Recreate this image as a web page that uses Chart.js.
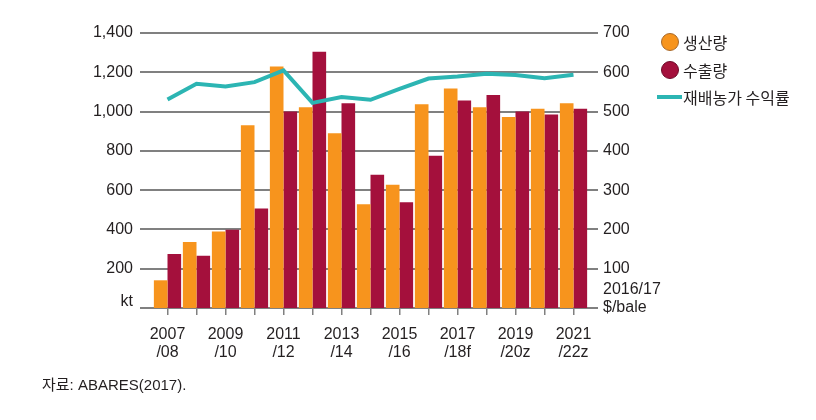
<!DOCTYPE html>
<html>
<head>
<meta charset="utf-8">
<script src="https://cdn.jsdelivr.net/npm/chart.js@4"></script>
<style>
  html, body { margin: 0; padding: 0; background: #fff; }
  #wrap { position: relative; width: 816px; height: 420px; overflow: hidden; }
  #chart { position: absolute; left: 0; top: 0; }
  .legend { position: absolute; left: 660px; top: 30px; font-family: "Noto Sans CJK KR", "Liberation Sans", sans-serif; font-size: 16px; color: #231f20; }
  .legend .item { position: absolute; left: 0; height: 24px; line-height: 24px; white-space: nowrap; }
  .legend .dot { position: absolute; left: 1px; top: 3px; width: 18px; height: 18px; border-radius: 50%; box-sizing: border-box; }
  .legend .bar { position: absolute; left: -3px; top: 10px; width: 25px; height: 4px; }
  .legend .txt { position: absolute; left: 23px; top: 0; }
  .source { position: absolute; left: 42px; top: 373px; font-family: "Liberation Sans", "Noto Sans CJK KR", sans-serif; font-size: 15px; color: #231f20; }
</style>
</head>
<body>
<div id="wrap">
  <canvas id="chart" width="816" height="420"></canvas>
  <div class="legend">
    <div class="item" style="top:0px"><span class="dot" style="background:#f7941d;border:1.5px solid #a8692a"></span><span class="txt">생산량</span></div>
    <div class="item" style="top:28px"><span class="dot" style="background:#a4103c;border:1.5px solid #6e0a28"></span><span class="txt">수출량</span></div>
    <div class="item" style="top:55px"><span class="bar" style="background:#2cb5b3"></span><span class="txt">재배농가 수익률</span></div>
  </div>
  <div class="source">자료: ABARES(2017).</div>
</div>
<script>
// Seasons (x axis)
const seasons = ['2007/08', '2008/09', '2009/10', '2010/11', '2011/12', '2012/13', '2013/14', '2014/15',
                 '2015/16', '2016/17', '2017/18f', '2018/19z', '2019/20z', '2020/21z', '2021/22z'];

// Production and exports, kt (left axis)
const production = [141, 336, 390, 931, 1229, 1022, 890, 528, 627, 1037, 1118, 1022, 973, 1014, 1042];
const exportsKt  = [275, 266, 398, 507, 1000, 1305, 1043, 679, 538, 775, 1056, 1084, 1000, 985, 1014];

// Grower returns, 2016/17 $/bale (right axis)
const growerReturn = [531, 571, 564, 575, 605, 522, 537, 530, 558, 584, 589, 596, 593, 585, 594];

// Tick labels
const leftTicks = [0, 200, 400, 600, 800, 1000, 1200, 1400];
const rightTicks = [0, 100, 200, 300, 400, 500, 600, 700];

const FONT = '"Liberation Sans", Arial, "Noto Sans CJK KR", sans-serif';
const TEXT = '#231f20';
const GRID = '#808080';

// Horizontal grid lines run a little past the bars on both sides
const gridPlugin = {
  id: 'wideGrid',
  beforeDatasetsDraw(chart) {
    const ctx = chart.ctx;
    const y = chart.scales.y;
    const left = chart.chartArea.left - 13;
    const right = chart.chartArea.right + 10;
    ctx.save();
    ctx.strokeStyle = GRID;
    ctx.lineWidth = 2;
    leftTicks.forEach((v) => {
      const py = Math.round(y.getPixelForValue(v));
      ctx.beginPath();
      ctx.moveTo(left, py);
      ctx.lineTo(right, py);
      ctx.stroke();
    });
    ctx.restore();
  }
};

new Chart(document.getElementById('chart').getContext('2d'), {
  type: 'bar',
  data: {
    labels: seasons,
    datasets: [
      {
        type: 'line',
        label: '재배농가 수익률',
        data: growerReturn,
        yAxisID: 'y1',
        borderColor: '#2cb5b3',
        borderWidth: 4,
        pointRadius: 0,
        tension: 0,
        fill: false,
        order: 0
      },
      {
        label: '생산량',
        data: production,
        yAxisID: 'y',
        backgroundColor: '#f7941d',
        categoryPercentage: 0.94,
        barPercentage: 1.0,
        order: 1
      },
      {
        label: '수출량',
        data: exportsKt,
        yAxisID: 'y',
        backgroundColor: '#a4103c',
        categoryPercentage: 0.94,
        barPercentage: 1.0,
        order: 1
      }
    ]
  },
  options: {
    responsive: false,
    animation: false,
    layout: { padding: { left: 0, right: 0, top: 33, bottom: 0 } },
    plugins: {
      legend: { display: false },
      tooltip: { enabled: false }
    },
    scales: {
      x: {
        offset: true,
        grid: { display: true, drawOnChartArea: false, offset: false, drawTicks: true, tickLength: 7, color: GRID, lineWidth: 1.5 },
        border: { display: false },
        ticks: {
          autoSkip: false,
          maxRotation: 0,
          padding: 10,
          color: TEXT,
          font: { family: FONT, size: 16, lineHeight: 1.15 },
          callback: (v, i) => (i % 2 === 0 ? seasons[i].split('/').map((s, k) => (k ? '/' + s : s)) : '')
        },
        afterFit: (scale) => { scale.height = 112; }
      },
      y: {
        position: 'left',
        min: 0,
        max: 1400,
        grid: { display: false, drawTicks: false },
        border: { display: false },
        afterBuildTicks: (scale) => { scale.ticks = leftTicks.map((v) => ({ value: v })); },
        ticks: {
          autoSkip: false,
          padding: 20,
          color: TEXT,
          font: { family: FONT, size: 16, lineHeight: 0.75 },
          callback: (v) => (v === 0 ? ['kt', ''] : v.toLocaleString('en-US'))
        },
        afterFit: (scale) => { scale.width = 153; }
      },
      y1: {
        position: 'right',
        min: 0,
        max: 700,
        grid: { display: false, drawTicks: false },
        border: { display: false },
        afterBuildTicks: (scale) => { scale.ticks = rightTicks.map((v) => ({ value: v })); },
        ticks: {
          autoSkip: false,
          padding: 15,
          color: TEXT,
          font: { family: FONT, size: 16, lineHeight: 1.15 },
          callback: (v) => (v === 0 ? ['2016/17', '$/bale', ''] : String(v))
        },
        afterFit: (scale) => { scale.width = 228; }
      }
    }
  },
  plugins: [gridPlugin]
});
</script>
</body>
</html>
